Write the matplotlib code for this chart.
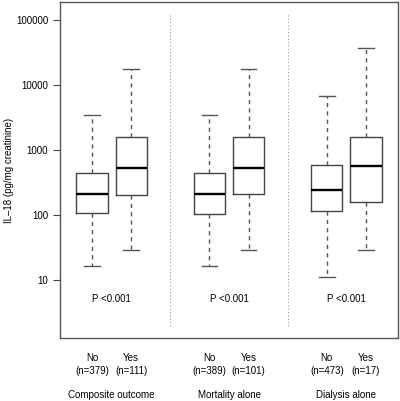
import matplotlib
matplotlib.use('Agg')
import matplotlib.pyplot as plt
import matplotlib.transforms as mtransforms

plt.rcParams['font.family'] = ['Liberation Sans', 'DejaVu Sans']

# box statistics (pg/mg creatinine)
groups = ['Composite outcome', 'Mortality alone', 'Dialysis alone']
box_labels = ['No', 'Yes', 'No', 'Yes', 'No', 'Yes']
n_labels = ['(n=379)', '(n=111)', '(n=389)', '(n=101)', '(n=473)', '(n=17)']
whislo = [16.6, 29.5, 16.6, 29.5, 11.2, 29.5]
q1 = [107, 205, 106, 213, 116, 162]
med = [208, 535, 208, 535, 240, 573]
q3 = [447, 1600, 448, 1620, 594, 1620]
whishi = [3470, 17800, 3470, 17800, 6700, 37500]
p_text = ['P <0.001', 'P <0.001', 'P <0.001']

positions = [1, 2, 4, 5, 7, 8]
group_centers = [1.5, 4.5, 7.5]
separators = [3, 6]

stats = []
for i in range(len(positions)):
    stats.append({'whislo': whislo[i], 'q1': q1[i], 'med': med[i],
                  'q3': q3[i], 'whishi': whishi[i], 'fliers': []})

fig = plt.figure(figsize=(4.0, 4.01), dpi=100)
ax = fig.add_axes([0.15, 0.156, 0.845, 0.838])

edge = '#444444'
ax.bxp(stats, positions=positions, widths=0.8, showfliers=False,
       boxprops=dict(color=edge, linewidth=1.0),
       medianprops=dict(color='black', linewidth=1.7, solid_capstyle='butt'),
       whiskerprops=dict(color='#555555', linewidth=1.0, linestyle=(0, (3, 3))),
       capprops=dict(color='#555555', linewidth=1.0),
       capwidths=0.4)

ax.set_yscale('log')
ax.set_ylim(1.27, 187000)
ax.set_xlim(0.18, 8.82)
ax.set_yticks([10, 100, 1000, 10000, 100000])
ax.set_yticklabels(['10', '100', '1000', '10000', '100000'])
ax.minorticks_off()
ax.tick_params(axis='y', length=5, width=0.8, color='#444444', pad=3.5,
               labelsize=7)
ax.set_xticks([])
for s in ax.spines.values():
    s.set_color('#555555')
    s.set_linewidth(1.0)

ax.vlines(separators, 2, 120000, colors='#999999', linestyles=(0, (1, 2)),
          linewidth=0.8)

for c, t in zip(group_centers, p_text):
    ax.text(c, 5.1, t, ha='center', va='center', fontsize=7)

trans = mtransforms.blended_transform_factory(ax.transData, fig.transFigure)
for p, a, b in zip(positions, box_labels, n_labels):
    ax.text(p, 0.107, a, transform=trans, ha='center', va='center', fontsize=7)
    ax.text(p, 0.075, b, transform=trans, ha='center', va='center', fontsize=7)
for c, g in zip(group_centers, groups):
    ax.text(c, 0.015, g, transform=trans, ha='center', va='center', fontsize=7)

fig.text(0.022, 0.575, 'IL\u201318 (pg/mg creatinine)', rotation=90,
         ha='center', va='center', fontsize=7)

fig.savefig('out.png', dpi=100)
